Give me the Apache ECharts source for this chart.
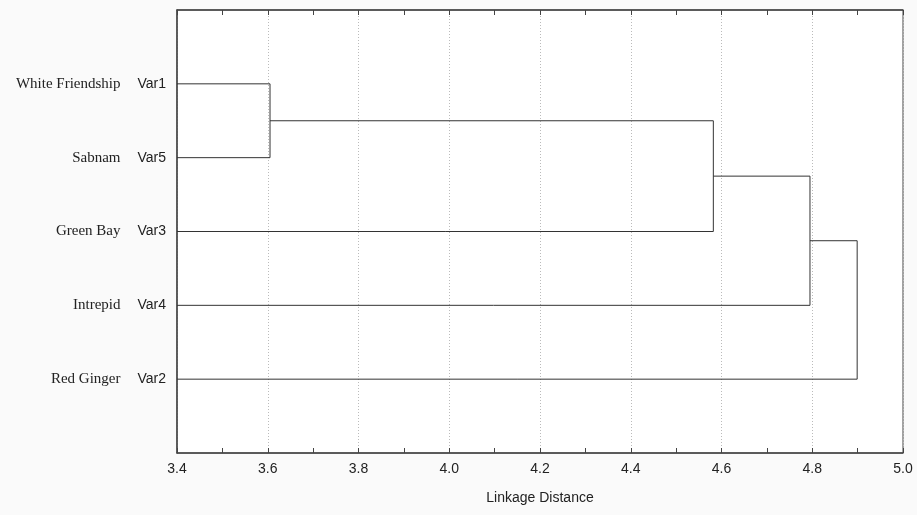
<!DOCTYPE html>
<html><head><meta charset="utf-8">
<script src="https://cdn.jsdelivr.net/npm/echarts@6/dist/echarts.min.js"></script>
<style>html,body{margin:0;padding:0;background:#fafafa;}#c{width:917px;height:515px;}</style>
</head><body><div id="c"></div>
<script>
// leaves in display order (top to bottom)
const leafNames = ["White Friendship", "Sabnam", "Green Bay", "Intrepid", "Red Ginger"];
const leafVars = ["Var1", "Var5", "Var3", "Var4", "Var2"];
// merges: [left cluster, right cluster, linkage distance]; leaves are 0..4, new clusters 5..
const mergeA = [0, 5, 6, 7];
const mergeB = [1, 2, 3, 4];
const mergeH = [3.605, 4.582, 4.795, 4.899];
const xTicks = [3.4, 5.0, 0.2];

const base = xTicks[0];
const pos = [], hgt = [];
leafNames.forEach((n, i) => { pos.push(i + 1); hgt.push(base); });
const series = [];
mergeH.forEach((h, k) => {
  const a = mergeA[k], b = mergeB[k];
  series.push({
    type: 'line', xAxisIndex: 0, yAxisIndex: 0, symbol: 'none', silent: true,
    lineStyle: { color: '#333', width: 1 },
    data: [[hgt[a], pos[a]], [h, pos[a]], [h, pos[b]], [hgt[b], pos[b]]]
  });
  pos.push((pos[a] + pos[b]) / 2); hgt.push(h);
});

const sansN = "'Liberation Sans Narrow', 'Arial Narrow', 'Liberation Sans', sans-serif";
const chart = echarts.init(document.getElementById('c'));
chart.setOption({
  backgroundColor: '#fafafa',
  animation: false,
  grid: { left: 177, right: 14, top: 10, bottom: 62, show: true, backgroundColor: '#fff', borderColor: '#444', borderWidth: 1 },
  xAxis: [{
    type: 'value', min: xTicks[0], max: xTicks[1], interval: xTicks[2], position: 'bottom',
    name: 'Linkage Distance', nameLocation: 'middle', nameGap: 38,
    nameTextStyle: { color: '#222', fontSize: 14, fontFamily: sansN },
    axisLine: { show: true, onZero: false, lineStyle: { color: '#444', width: 1.5 } },
    axisTick: { show: true, inside: true, length: 5, lineStyle: { color: '#444', width: 1 } },
    minorTick: { show: true, splitNumber: 2, length: 5, lineStyle: { color: '#444', width: 1 } },
    axisLabel: { color: '#222', fontSize: 14, margin: 9, fontFamily: sansN, formatter: v => v.toFixed(1) },
    splitLine: { show: true, lineStyle: { color: '#bbb', type: [1, 2], width: 1 } }
  }, {
    type: 'value', min: xTicks[0], max: xTicks[1], interval: xTicks[2], position: 'top',
    axisLine: { show: true, onZero: false, lineStyle: { color: '#444', width: 1.5 } },
    axisTick: { show: true, inside: true, length: 5, lineStyle: { color: '#444', width: 1 } },
    minorTick: { show: true, splitNumber: 2, length: 5, lineStyle: { color: '#444', width: 1 } },
    axisLabel: { show: false }, splitLine: { show: false }
  }],
  yAxis: {
    type: 'value', min: 0, max: leafNames.length + 1, interval: 1, inverse: true,
    axisLine: { show: true, onZero: false, lineStyle: { color: '#444', width: 1.5 } },
    axisTick: { show: false }, splitLine: { show: false },
    axisLabel: {
      margin: 11,
      formatter: v => (v >= 1 && v <= leafNames.length) ? '{n|' + leafNames[v - 1] + '}{v|' + leafVars[v - 1] + '}' : '',
      rich: {
        n: { fontFamily: "'Liberation Serif', 'Times New Roman', serif", fontSize: 15, color: '#222' },
        v: { fontFamily: "'Liberation Sans', Arial, sans-serif", fontSize: 14, color: '#222', padding: [0, 0, 0, 17] }
      }
    }
  },
  series: series
});
</script></body></html>
